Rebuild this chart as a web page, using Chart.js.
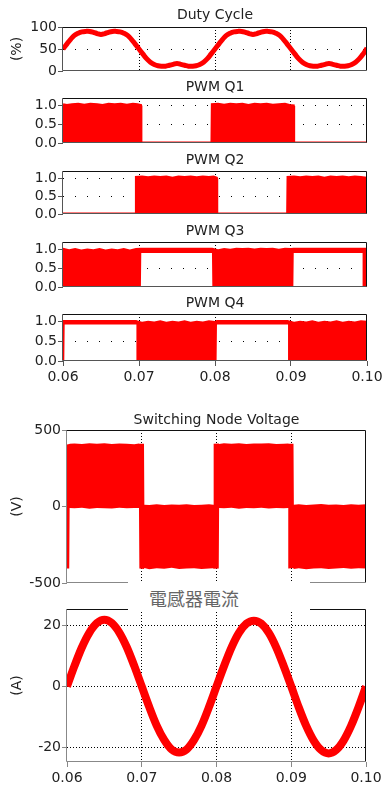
<!DOCTYPE html>
<html>
<head>
<meta charset="utf-8">
<title>Inverter waveforms</title>
<script src="https://cdn.jsdelivr.net/npm/chart.js@4.4.1/dist/chart.umd.min.js"></script>
<style>
  html, body { margin: 0; padding: 0; background: #fff; }
  body { position: relative; width: 382px; height: 785px; overflow: hidden; }
  canvas { position: absolute; left: 0; }
  #iTitle {
    position: absolute; left: 128px; top: 582px; width: 182px; height: 29px;
    background: #fff; z-index: 5; box-sizing: border-box; padding-top: 3px;
    font: 18px 'Noto Sans CJK TC', sans-serif; line-height: 26px; color: #666;
    text-indent: 21px; white-space: nowrap;
  }
</style>
</head>
<body>
<canvas id="duty"></canvas>
<canvas id="q1"></canvas>
<canvas id="q2"></canvas>
<canvas id="q3"></canvas>
<canvas id="q4"></canvas>
<canvas id="volt"></canvas>
<canvas id="amps"></canvas>
<div id="iTitle">電感器電流</div>
<script>
// ---- data ----
const xTicks = [0.06, 0.07, 0.08, 0.09, 0.10];
const dutyTicks = [0, 50, 100];
const pwmTicks = [0, 0.5, 1.0];
const voltTicks = [-500, 0, 500];
const ampTicks = [-20, 0, 20];

const dutyTime = [
  0.0600, 0.0605, 0.0610, 0.0615, 0.0620, 0.0625, 0.0630, 0.0635, 0.0640, 0.0645,
  0.0650, 0.0655, 0.0660, 0.0665, 0.0670, 0.0675, 0.0680, 0.0685, 0.0690, 0.0695,
  0.0700, 0.0705, 0.0710, 0.0715, 0.0720, 0.0725, 0.0730, 0.0735, 0.0740, 0.0745,
  0.0750, 0.0755, 0.0760, 0.0765, 0.0770, 0.0775, 0.0780, 0.0785, 0.0790, 0.0795,
  0.0800, 0.0805, 0.0810, 0.0815, 0.0820, 0.0825, 0.0830, 0.0835, 0.0840, 0.0845,
  0.0850, 0.0855, 0.0860, 0.0865, 0.0870, 0.0875, 0.0880, 0.0885, 0.0890, 0.0895,
  0.0900, 0.0905, 0.0910, 0.0915, 0.0920, 0.0925, 0.0930, 0.0935, 0.0940, 0.0945,
  0.0950, 0.0955, 0.0960, 0.0965, 0.0970, 0.0975, 0.0980, 0.0985, 0.0990, 0.0995,
  0.1000
];
const dutyValue = [
  50, 61, 72, 81, 86, 89, 90, 90, 88, 85,
  83, 85, 88, 90, 90, 89, 86, 81, 72, 61,
  50, 39, 28, 20, 15, 12, 11, 11, 13, 15,
  17, 15, 13, 11, 11, 12, 15, 20, 28, 39,
  50, 61, 72, 81, 86, 89, 90, 90, 88, 85,
  83, 85, 88, 90, 90, 89, 86, 81, 72, 61,
  50, 39, 28, 20, 15, 12, 11, 11, 13, 15,
  17, 15, 13, 11, 11, 12, 15, 20, 28, 39,
  52
];

const q1Time = [0.0600, 0.0605, 0.0612, 0.0620, 0.0628, 0.0636, 0.0645, 0.0652, 0.0660, 0.0668, 0.0676, 0.0684, 0.0692, 0.0698, 0.0702,
  0.07025, 0.0796,
  0.07965, 0.0804, 0.0812, 0.0820, 0.0828, 0.0836, 0.0844, 0.0852, 0.0860, 0.0868, 0.0876, 0.0884, 0.0892, 0.0898, 0.0903,
  0.09035, 0.1000];
const q1Value = [1.02, 1.00, 1.02, 1.03, 1.01, 1.03, 1.02, 1.00, 1.03, 1.02, 1.03, 1.01, 1.03, 1.02, 1.00,
  0, 0,
  1.02, 1.03, 1.01, 1.03, 1.02, 1.03, 1.00, 1.03, 1.02, 1.03, 1.01, 1.02, 1.03, 1.00, 0.99,
  0, 0];

const q2Time = [0.0600, 0.06961,
  0.06966, 0.0704, 0.0712, 0.0720, 0.0728, 0.0736, 0.0744, 0.0752, 0.0760, 0.0768, 0.0776, 0.0784, 0.0792, 0.0798, 0.08018,
  0.08023, 0.08956,
  0.08961, 0.0904, 0.0912, 0.0920, 0.0928, 0.0936, 0.0944, 0.0952, 0.0960, 0.0968, 0.0976, 0.0984, 0.0992, 0.1000];
const q2Value = [0, 0,
  1.02, 1.03, 1.01, 1.03, 1.02, 1.03, 1.00, 1.03, 1.02, 1.03, 1.01, 1.03, 1.02, 1.03, 1.00,
  0, 0,
  1.02, 1.03, 1.01, 1.03, 1.02, 1.03, 1.00, 1.03, 1.02, 1.03, 1.01, 1.03, 1.02, 1.00];

const q3Time = [0.0600, 0.0608, 0.0616, 0.0624, 0.0632, 0.0640, 0.0648, 0.0656, 0.0664, 0.0672, 0.0680, 0.0688, 0.0696, 0.07025,
  0.0703, 0.0796,
  0.07965, 0.0804, 0.0812, 0.0820, 0.0828, 0.0836, 0.0844, 0.0852, 0.0860, 0.0868, 0.0876, 0.0884, 0.0892, 0.0900, 0.09031,
  0.09036, 0.09942,
  0.09947, 0.1000];
const q3High = [1.05, 1.01, 1.04, 1.00, 1.03, 1.01, 1.04, 1.00, 1.03, 1.01, 1.04, 1.00, 1.04, 1.05,
  1.05, 1.05,
  1.05, 1.01, 1.04, 1.02, 1.05, 1.04, 1.05, 1.03, 1.05, 1.04, 1.05, 1.02, 1.05, 1.04, 1.05,
  1.05, 1.05,
  1.05, 1.05];
const q3Low = [0, 0, 0, 0, 0, 0, 0, 0, 0, 0, 0, 0, 0, 0,
  0.91, 0.91,
  0, 0, 0, 0, 0, 0, 0, 0, 0, 0, 0, 0, 0, 0, 0,
  0.91, 0.91,
  0, 0];

const q4Time = [0.0600, 0.06017, 0.06022, 0.06966, 0.06971,
  0.0704, 0.0712, 0.0720, 0.0728, 0.0736, 0.0744, 0.0752, 0.0760, 0.0768, 0.0776, 0.0784, 0.0792, 0.0800,
  0.08021, 0.08026, 0.08961, 0.08966,
  0.0904, 0.0912, 0.0920, 0.0928, 0.0936, 0.0944, 0.0952, 0.0960, 0.0968, 0.0976, 0.0984, 0.0992, 0.1000];
const q4High = [1.05, 1.05, 1.05, 1.05, 1.04,
  1.00, 1.03, 1.01, 1.04, 1.00, 1.03, 1.01, 1.04, 1.00, 1.03, 1.01, 1.04, 1.02,
  1.05, 1.05, 1.05, 1.04,
  1.00, 1.03, 1.01, 1.04, 1.00, 1.03, 1.01, 1.04, 1.00, 1.03, 1.01, 1.04, 1.03];
const q4Low = [0, 0, 0.93, 0.93, 0,
  0, 0, 0, 0, 0, 0, 0, 0, 0, 0, 0, 0, 0,
  0, 0.93, 0.93, 0,
  0, 0, 0, 0, 0, 0, 0, 0, 0, 0, 0, 0, 0];

const voltTime = [0.0600, 0.0603, 0.06035,
  0.0610, 0.0620, 0.0630, 0.0640, 0.0650, 0.0660, 0.0670, 0.0680, 0.0690,
  0.06963, 0.06968, 0.0703, 0.07035,
  0.0710, 0.0720, 0.0730, 0.0740, 0.0750, 0.0760, 0.0770, 0.0780, 0.0790,
  0.07957, 0.07962, 0.0803, 0.08035,
  0.0810, 0.0820, 0.0830, 0.0840, 0.0850, 0.0860, 0.0870, 0.0880, 0.0890,
  0.0896, 0.08965, 0.0903, 0.09035,
  0.0910, 0.0920, 0.0930, 0.0940, 0.0950, 0.0960, 0.0970, 0.0980, 0.0990, 0.1000];
const voltHigh = [405, 408, 410,
  412, 408, 414, 410, 413, 409, 412, 410, 407,
  411, 410, 410, 12,
  10, 14, 9, 13, 11, 15, 10, 12, 14,
  12, 410, 412, 408,
  413, 410, 414, 409, 412, 411, 413, 408, 410,
  412, 410, 410, 12,
  14, 10, 13, 16, 11, 13, 10, 14, 12, 15];
const voltLow = [-405, -405, -10,
  -12, -8, -14, -9, -11, -13, -8, -12, -10,
  -10, -405, -408, -402,
  -410, -404, -407, -401, -409, -405, -403, -408, -406,
  -404, -407, -405, -10,
  -12, -8, -15, -9, -11, -8, -13, -10, -12,
  -10, -405, -402, -408,
  -404, -410, -406, -403, -409, -405, -402, -407, -404, -406];

const ampTime = [
  0.060, 0.061, 0.062, 0.063, 0.064, 0.065, 0.066, 0.067, 0.068, 0.069,
  0.070, 0.071, 0.072, 0.073, 0.074, 0.075, 0.076, 0.077, 0.078, 0.079,
  0.080, 0.081, 0.082, 0.083, 0.084, 0.085, 0.086, 0.087, 0.088, 0.089,
  0.090, 0.091, 0.092, 0.093, 0.094, 0.095, 0.096, 0.097, 0.098, 0.099,
  0.100
];
const ampValue = [
  0, 6.7, 12.8, 17.6, 20.7, 21.8, 20.7, 17.6, 12.8, 6.7,
  0, -6.7, -12.8, -17.5, -20.6, -21.6, -20.6, -17.5, -12.8, -6.7,
  0, 6.6, 12.7, 17.5, 20.5, 21.5, 20.5, 17.5, 12.7, 6.6,
  0, -6.8, -12.9, -17.7, -20.8, -21.9, -20.8, -17.7, -12.9, -6.8,
  0
];

// ---- chart setup ----
const RED = '#ff0000';
Chart.defaults.font.family = "'DejaVu Sans', Verdana, sans-serif";
Chart.defaults.font.size = 14;
Chart.defaults.color = '#222';

function xy(xs, ys) {
  return xs.map((x, i) => ({ x: x, y: ys[i] }));
}

// box around the plot area, drawn over the traces
const framePlugin = {
  id: 'frame',
  defaults: { axis: '#555' },
  afterDatasetsDraw(chart, args, opts) {
    const { ctx, chartArea: a } = chart;
    const l = Math.round(a.left) - 0.5, r = Math.round(a.right) - 0.5;
    const t = Math.round(a.top) + 0.5, b = Math.round(a.bottom) - 0.5;
    ctx.save();
    ctx.lineWidth = 1;
    ctx.strokeStyle = '#111';
    ctx.beginPath(); ctx.moveTo(l, t); ctx.lineTo(r, t); ctx.lineTo(r, b); ctx.stroke();
    ctx.strokeStyle = opts.axis;
    ctx.beginPath(); ctx.moveTo(l, t); ctx.lineTo(l, b); ctx.lineTo(r, b); ctx.stroke();
    ctx.restore();
  }
};

function build(id, L, datasets, Y) {
  const canvas = document.getElementById(id);
  const bottomPart = L.xAxis || L.foot;
  canvas.width = 382;
  canvas.height = L.head + L.area + bottomPart;
  canvas.style.top = L.top + 'px';
  const inner = v => v > Y.min && v < Y.max;
  const hasTitle = !!L.title;

  return new Chart(canvas, {
    type: 'line',
    data: { datasets: datasets },
    options: {
      responsive: false,
      animation: false,
      events: [],
      layout: {
        padding: { left: 0, right: 382 - L.right, top: hasTitle ? 0 : L.head, bottom: L.xAxis ? 0 : L.foot }
      },
      plugins: {
        legend: { display: false },
        tooltip: { enabled: false },
        title: {
          display: hasTitle,
          text: L.title || '',
          fullSize: false,
          color: '#222',
          font: { size: 14, weight: 'normal' },
          padding: { top: L.head - L.gap - 8.4, bottom: L.gap - 8.4 }
        },
        frame: { axis: L.axisColor }
      },
      scales: {
        x: {
          type: 'linear', min: 0.06, max: 0.1,
          afterBuildTicks: s => { s.ticks = xTicks.map(v => ({ value: v })); },
          afterFit: s => { s.height = L.xAxis; s.paddingLeft = 0; s.paddingRight = 0; },
          ticks: { display: L.xAxis > 0, autoSkip: false, maxRotation: 0, padding: 3, callback: v => v.toFixed(2) },
          grid: {
            color: c => (c.index > 0 && c.index < xTicks.length - 1) ? '#000' : 'rgba(0,0,0,0)',
            borderDash: L.vDash,
            drawTicks: L.xAxis > 0, tickLength: 5, tickColor: L.axisColor, tickBorderDash: []
          },
          border: { display: false, dash: L.vDash }
        },
        y: {
          type: 'linear', min: Y.min, max: Y.max,
          afterBuildTicks: s => { s.ticks = Y.ticks.map(v => ({ value: v })); },
          afterFit: s => { s.width = L.left; s.paddingTop = 0; s.paddingBottom = 0; },
          ticks: { autoSkip: false, padding: 1, callback: Y.fmt },
          grid: {
            color: c => inner(c.tick.value) ? '#000' : 'rgba(0,0,0,0)',
            borderDash: L.hDash,
            tickLength: 5, tickColor: L.axisColor, tickBorderDash: []
          },
          border: { display: false, dash: L.hDash },
          title: { display: true, text: Y.title, font: { size: 14 }, padding: { top: 9, bottom: 0 } }
        }
      }
    },
    plugins: [framePlugin]
  });
}

const topGroup = { left: 63, right: 367, head: 27, foot: 10, xAxis: 0, axisColor: '#555', hDash: [1, 11], vDash: [1, 2] };
const lowGroup = { left: 67, right: 366, head: 27, foot: 10, xAxis: 0, axisColor: '#888', hDash: [1, 2], vDash: [1, 2] };
const pwmY = { min: 0, max: 1.2, ticks: pwmTicks, fmt: v => v.toFixed(1), title: '' };

// gate signal filled down to zero; the trace stays visible along the bottom while off
function area(xs, ys) {
  return { data: xy(xs, ys), borderColor: RED, backgroundColor: RED, borderWidth: 3, pointRadius: 0, tension: 0, fill: 'origin' };
}
// filled envelope between a lower and an upper trace
function band(xs, lo, hi) {
  return [
    { data: xy(xs, lo), borderWidth: 0, borderColor: RED, pointRadius: 0, tension: 0, fill: false },
    { data: xy(xs, hi), borderWidth: 0, borderColor: RED, backgroundColor: RED, pointRadius: 0, tension: 0, fill: '-1' }
  ];
}

build('duty', Object.assign({}, topGroup, { top: 0, area: 44, gap: 12, title: 'Duty Cycle' }),
  [{ data: xy(dutyTime, dutyValue), borderColor: RED, borderWidth: 5, pointRadius: 0, tension: 0.4, fill: false }],
  { min: 0, max: 100, ticks: dutyTicks, fmt: v => String(v), title: '(%)' });

build('q1', Object.assign({}, topGroup, { top: 71, area: 45, gap: 11, title: 'PWM Q1' }),
  [area(q1Time, q1Value)], pwmY);

build('q2', Object.assign({}, topGroup, { top: 144, area: 43, gap: 11, title: 'PWM Q2' }),
  [area(q2Time, q2Value)], pwmY);

build('q3', Object.assign({}, topGroup, { top: 215, area: 45, gap: 11, title: 'PWM Q3' }),
  band(q3Time, q3Low, q3High), pwmY);

build('q4', Object.assign({}, topGroup, { top: 287, area: 47, gap: 11, xAxis: 25, title: 'PWM Q4' }),
  band(q4Time, q4Low, q4High), pwmY);

build('volt', Object.assign({}, lowGroup, { top: 403, area: 153, gap: 10, title: 'Switching Node Voltage' }),
  band(voltTime, voltLow, voltHigh),
  { min: -500, max: 500, ticks: voltTicks, fmt: v => String(v), title: '(V)' });

build('amps', Object.assign({}, lowGroup, { top: 595, head: 14, area: 153, gap: 0, xAxis: 23, title: '' }),
  [{ data: xy(ampTime, ampValue), borderColor: RED, borderWidth: 8, pointRadius: 0, cubicInterpolationMode: 'monotone', fill: false }],
  { min: -24.7, max: 25.3, ticks: ampTicks, fmt: v => String(v), title: '(A)' });
</script>
</body>
</html>
